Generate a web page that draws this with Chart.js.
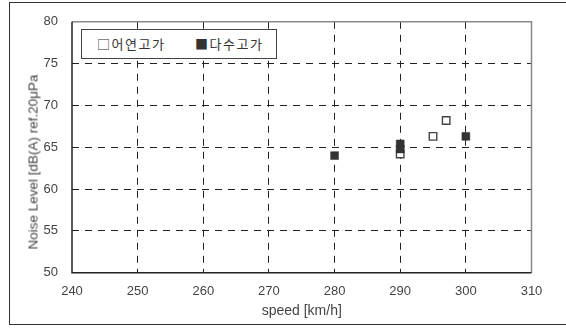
<!DOCTYPE html>
<html>
<head>
<meta charset="utf-8">
<script src="https://cdn.jsdelivr.net/npm/chart.js@4"></script>
<style>
  html, body { margin: 0; padding: 0; background: #fff; }
  #wrap { position: relative; width: 566px; height: 329px; overflow: hidden; }
  #frame { position: absolute; left: 9px; top: 2px; width: 600px; height: 323px; border: 1.5px solid #333; box-sizing: border-box; }
  #chart { position: absolute; left: 0; top: 0; }
  #legend { position: absolute; left: 81px; top: 29px; width: 196px; height: 30px; box-sizing: border-box;
            border: 1.2px solid #444; background: #fff; font-family: "Noto Sans CJK KR", sans-serif;
            font-size: 13px; color: #333; letter-spacing: 1.5px; line-height: 28px; white-space: nowrap; }
  #legend span { position: absolute; top: 0; }
  #ytitle { position: absolute; left: 33px; top: 162px; width: 0; height: 0; }
  #ytitle span { position: absolute; left: 0; top: 0; transform: translate(-50%, -50%) rotate(-90deg);
                 font-family: "Liberation Sans", sans-serif; font-size: 13.5px; color: #444; white-space: nowrap; }
</style>
</head>
<body>
<div id="wrap">
  <div id="frame"></div>
  <canvas id="chart" width="566" height="329"></canvas>
  <div id="legend"><span style="left:15px">□어연고가</span><span style="left:113px">■다수고가</span></div>
  <div id="ytitle"><span id="ytitleText"></span></div>
</div>
<script>
// Data
const seriesNames = ["어연고가", "다수고가"];
const speedA = [290, 295, 297];          // 어연고가 (hollow squares)
const noiseA = [64.2, 66.3, 68.2];
const speedB = [280, 290, 290, 300];     // 다수고가 (filled squares)
const noiseB = [64.0, 64.8, 65.4, 66.3];
const xTicks = [240, 250, 260, 270, 280, 290, 300, 310];
const yTicks = [50, 55, 60, 65, 70, 75, 80];
const xTitle = "speed [km/h]";
const yTitle = "Noise Level [dB(A) ref.20μPa";

document.getElementById('ytitleText').textContent = yTitle;

const toPts = (xs, ys) => xs.map((x, i) => ({ x: x, y: ys[i] }));

const frameLines = {
  id: 'frameLines',
  afterDatasetsDraw(chart) {
    const a = chart.chartArea, ctx = chart.ctx;
    ctx.save();
    ctx.setLineDash([]);
    ctx.lineWidth = 1.5;
    ctx.strokeStyle = '#888';
    ctx.beginPath();
    ctx.moveTo(a.left, a.top);
    ctx.lineTo(a.right, a.top);
    ctx.lineTo(a.right, a.bottom);
    ctx.stroke();
    ctx.strokeStyle = '#222';
    ctx.beginPath();
    ctx.moveTo(a.left, a.top);
    ctx.lineTo(a.left, a.bottom);
    ctx.lineTo(a.right, a.bottom);
    ctx.stroke();
    ctx.restore();
  }
};

const edgeGrid = (min, max) => (c) => {
  const v = c.tick ? c.tick.value : null;
  return (v === min || v === max) ? 'rgba(0,0,0,0)' : '#222';
};

new Chart(document.getElementById('chart'), {
  type: 'scatter',
  data: {
    datasets: [
      {
        label: seriesNames[1],
        data: toPts(speedB, noiseB),
        pointStyle: 'rect',
        pointRadius: 5.6,
        pointHoverRadius: 5.6,
        backgroundColor: '#333',
        borderColor: '#333',
        borderWidth: 0.5,
        order: 1
      },
      {
        label: seriesNames[0],
        data: toPts(speedA, noiseA),
        pointStyle: 'rect',
        pointRadius: 5.3,
        pointHoverRadius: 5.3,
        backgroundColor: '#fff',
        borderColor: '#444',
        borderWidth: 1.4,
        order: 2
      }
    ]
  },
  options: {
    responsive: false,
    animation: false,
    events: [],
    layout: { padding: { left: 0, right: 34.5, top: 20, bottom: 0 } },
    plugins: { legend: { display: false }, tooltip: { enabled: false } },
    scales: {
      x: {
        type: 'linear',
        min: xTicks[0], max: xTicks[xTicks.length - 1],
        afterBuildTicks(s) { s.ticks = xTicks.map(v => ({ value: v })); },
        afterFit(s) { s.height = 329 - 272.7; },
        border: { display: false, dash: [7, 6] },
        grid: { color: edgeGrid(240, 310), lineWidth: 1, drawTicks: false },
        ticks: { color: '#444', padding: 11, font: { family: 'Liberation Sans', size: 13 } },
        title: { display: true, text: xTitle, color: '#444', padding: { top: 4, bottom: 9 },
                 font: { family: 'Liberation Sans', size: 14 } }
      },
      y: {
        type: 'linear',
        min: yTicks[0], max: yTicks[yTicks.length - 1],
        afterBuildTicks(s) { s.ticks = yTicks.map(v => ({ value: v })); },
        afterFit(s) { s.width = 72; },
        border: { display: false, dash: [7, 6] },
        grid: { color: edgeGrid(50, 80), lineWidth: 1, drawTicks: false },
        ticks: { color: '#444', padding: 14, font: { family: 'Liberation Sans', size: 13 } },
        title: { display: false }
      }
    }
  },
  plugins: [frameLines]
});
</script>
</body>
</html>
